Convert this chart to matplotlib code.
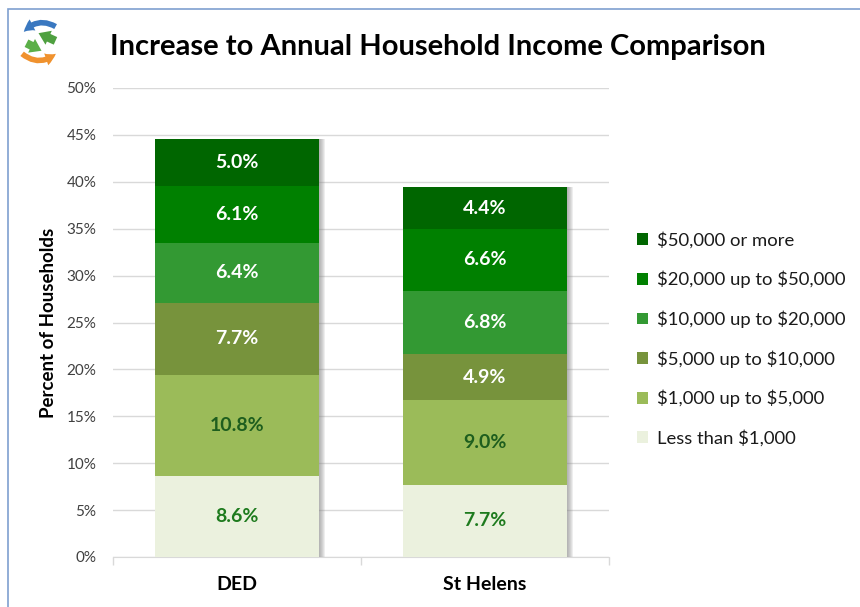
import matplotlib
matplotlib.use("Agg")
import matplotlib.pyplot as plt
from matplotlib.patches import FancyArrowPatch, Rectangle
import numpy as np

plt.rcParams['font.family'] = ['Lato', 'DejaVu Sans']

categories = ["DED", "St Helens"]
series_names = ["Less than \\$1,000", "\\$1,000 up to \\$5,000", "\\$5,000 up to \\$10,000",
                "\\$10,000 up to \\$20,000", "\\$20,000 up to \\$50,000", "\\$50,000 or more"]
ded_values = [8.6, 10.8, 7.7, 6.4, 6.1, 5.0]
sthelens_values = [7.7, 9.0, 4.9, 6.8, 6.6, 4.4]
colors = ["#EBF1DE", "#9BBB59", "#77933C", "#339933", "#008000", "#006600"]
label_colors = ["#1E7B1E", "#1E5E1E", "white", "white", "white", "white"]
yticks = [0, 5, 10, 15, 20, 25, 30, 35, 40, 45, 50]

values = np.array([ded_values, sthelens_values])  # shape (2, 6)

fig = plt.figure(figsize=(8.6, 6.07), dpi=100)
W, H = 860, 607
ax = fig.add_axes([113 / W, 1 - 557 / H, (609 - 113) / W, (557 - 88) / H])

x = np.arange(len(categories))
width = 0.66
totals = values.sum(axis=1)

# soft shadow on the right of each stack
px = 1.0 / 248.0  # one pixel in data units along x
for k in range(6):
    ax.bar(x + (k + 1) * px, totals, width=width, bottom=0, color="#808080",
           alpha=0.13, zorder=2, linewidth=0)

bottom = np.zeros(len(categories))
handles = []
for i, name in enumerate(series_names):
    vals = values[:, i]
    bars = ax.bar(x, vals, width=width, bottom=bottom, color=colors[i], label=name,
                  zorder=3, linewidth=0)
    handles.append(bars)
    for xi, v, b0 in zip(x, vals, bottom):
        ax.text(xi, b0 + v / 2, f"{v:.1f}%", ha="center", va="center",
                color=label_colors[i], fontsize=14, fontweight="bold", zorder=5)
    bottom = bottom + vals

ax.set_xlim(-0.5, 1.5)
ax.set_ylim(0, 50)
ax.set_yticks(yticks)
ax.set_yticklabels([f"{t}%" for t in yticks], fontsize=11, color="#404040")
ax.yaxis.grid(True, color="#D9D9D9", linewidth=1, zorder=0)
ax.set_axisbelow(True)
ax.tick_params(axis="y", length=0, pad=12)
ax.set_xticks(x)
ax.set_xticklabels(categories, fontsize=14, fontweight="bold", color="black")
ax.tick_params(axis="x", which="major", length=0, pad=14)
ax.set_xticks([-0.5, 0.5, 1.5], minor=True)
ax.tick_params(axis="x", which="minor", length=6, color="#D9D9D9", width=1)
for s in ["top", "right", "left"]:
    ax.spines[s].set_visible(False)
ax.spines["bottom"].set_color("#D9D9D9")

ax.set_ylabel("Percent of Households", fontsize=13.5, fontweight="bold", labelpad=7)

leg = fig.legend(handles[::-1], series_names[::-1], loc="center left",
                 bbox_to_anchor=(628 / W, 1 - 339 / H), frameon=False,
                 fontsize=13.3, handlelength=0.6, handleheight=0.6, handletextpad=0.45,
                 labelspacing=1.2, borderpad=0, labelcolor="#1a1a1a")

fig.text(438 / W, 1 - 47 / H, "Increase to Annual Household Income Comparison",
         ha="center", va="center", fontsize=21, fontweight="bold", color="black")

# outer blue border
fig.patches.append(Rectangle((8 / W, -0.1), 1.2, 1 - 9 / H + 0.1, transform=fig.transFigure,
                             fill=False, edgecolor="#7F9FD0", linewidth=1.2))

# simple logo: curved arrows
def P(px_, py_):
    return (px_ / W, 1 - py_ / H)
arrows = [
    (P(58, 28), P(22, 34), "#3A78C0", 0.45, "head_width=9,head_length=8,tail_width=4"),
    (P(24, 42), P(44, 52), "#5BAF48", 0.0, "head_width=11,head_length=8,tail_width=6"),
    (P(58, 42), P(36, 32), "#4FA040", 0.0, "head_width=11,head_length=8,tail_width=6"),
    (P(20, 52), P(58, 52), "#F0922E", 0.45, "head_width=9,head_length=8,tail_width=4"),
]
for a, b, c, rad, st in arrows:
    fig.patches.append(FancyArrowPatch(a, b, transform=fig.transFigure,
                                       connectionstyle=f"arc3,rad={rad}",
                                       arrowstyle="simple," + st,
                                       color=c, mutation_scale=1, linewidth=0))

fig.savefig("out.png", dpi=100)
